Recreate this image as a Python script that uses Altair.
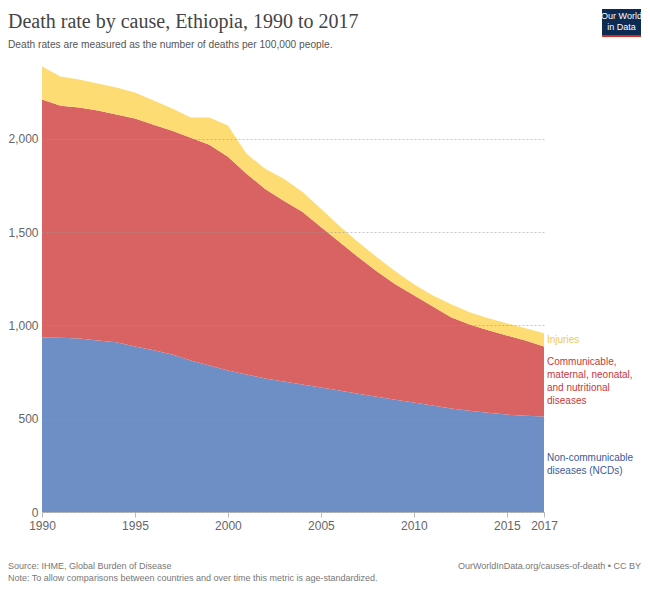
import altair as alt
import pandas as pd

years = list(range(1990, 2018))
ncd = [935, 934, 929, 919, 909, 887, 866, 844, 812, 785, 758, 737, 715, 699,
       683, 667, 651, 634, 618, 602, 586, 570, 554, 543, 532, 522, 516, 511]
communicable = [1275, 1243, 1238, 1232, 1220, 1221, 1209, 1199, 1193, 1183, 1145,
                1075, 1016, 968, 925, 860, 795, 732, 672, 618, 575, 532, 489,
                462, 441, 424, 403, 376]
injuries = [177, 156, 150, 145, 145, 139, 129, 118, 108, 145, 167, 107, 108, 118,
            107, 97, 86, 80, 76, 70, 59, 59, 70, 65, 65, 65, 65, 70]

causes = ["Non-communicable diseases (NCDs)",
          "Communicable, maternal, neonatal, and nutritional diseases",
          "Injuries"]
label_lines = [["Non-communicable", "diseases (NCDs)"],
               ["Communicable,", "maternal, neonatal,", "and nutritional", "diseases"],
               ["Injuries"]]
area_colors = ["#6d8fc5", "#d96363", "#fcdc73"]
label_colors = ["#3c5a9a", "#c8383c", "#f2c94c"]
x_ticks = [1990, 1995, 2000, 2005, 2010, 2015, 2017]
y_ticks = [0, 500, 1000, 1500, 2000]

series = [ncd, communicable, injuries]
rows = []
for k, (c, vals) in enumerate(zip(causes, series)):
    for y, v in zip(years, vals):
        rows.append({"year": y, "cause": c, "value": v, "order": k})
df = pd.DataFrame(rows)

W, H = 502, 448
FONT = "Liberation Sans"
LH = 13

color_scale = alt.Scale(domain=causes, range=area_colors)
x_scale = alt.Scale(domain=[1990, 2017], nice=False, zero=False)
y_scale = alt.Scale(domain=[0, 2400], nice=False)

areas = alt.Chart(df).mark_area().encode(
    x=alt.X("year:Q", scale=x_scale,
            axis=alt.Axis(values=x_ticks, format="d", title=None, grid=False,
                          tickSize=5, tickColor="#bbb", domainColor="#bbb",
                          labelColor="#666", labelFontSize=12, labelPadding=3,
                          labelFont=FONT, labelOverlap=False, labelBound=False,
                          labelFlush=False)),
    y=alt.Y("value:Q", stack="zero", scale=y_scale,
            axis=alt.Axis(values=y_ticks, format=",.0f", title=None, domain=False,
                          ticks=False, grid=True, gridColor="#999",
                          gridOpacity=0.55, gridDash=[2, 2], labelColor="#666",
                          labelFontSize=12, labelPadding=4, labelFont=FONT,
                          labelOverlap=False, zindex=1)),
    color=alt.Color("cause:N", scale=color_scale, legend=None),
    order=alt.Order("order:Q"),
)

# series labels, centred on the middle of each band in the last year
label_layers = []
base = 0
for k, (c, vals) in enumerate(zip(causes, series)):
    mid = base + vals[-1] / 2
    base += vals[-1]
    ldf = pd.DataFrame({"year": [years[-1]], "mid": [mid]})
    n = len(label_lines[k])
    label_layers.append(
        alt.Chart(ldf).mark_text(
            align="left", baseline="middle", dx=3, dy=-(n - 1) * LH / 2,
            fontSize=10, font=FONT, lineHeight=LH, color=label_colors[k]
        ).encode(
            x=alt.X("year:Q", scale=x_scale),
            y=alt.Y("mid:Q", scale=y_scale),
            text=alt.value(label_lines[k]),
        )
    )

one = pd.DataFrame({"a": [0]})


def txt(s, x, y, size, color, align="left", font=FONT, baseline="middle"):
    return alt.Chart(one).mark_text(
        align=align, baseline=baseline, fontSize=size, font=font, color=color
    ).encode(x=alt.value(x), y=alt.value(y), text=alt.value(s))


title = txt("Death rate by cause, Ethiopia, 1990 to 2017", -34, -36, 20, "#444",
            font="Liberation Serif", baseline="alphabetic")
subtitle = txt("Death rates are measured as the number of deaths per 100,000 people.",
               -34, -19, 10.2, "#555")
logo_box = alt.Chart(one).mark_rect(color="#0d2a52").encode(
    x=alt.value(560), x2=alt.value(599), y=alt.value(-55), y2=alt.value(-29))
logo_bar = alt.Chart(one).mark_rect(color="#d42b21").encode(
    x=alt.value(560), x2=alt.value(599), y=alt.value(-29), y2=alt.value(-27))
logo_t1 = txt("Our World", 579.5, -48, 9, "white", align="center")
logo_t2 = txt("in Data", 579.5, -37, 9, "white", align="center")
source = txt("Source: IHME, Global Burden of Disease", -34, 502, 9, "#777")
note = txt("Note: To allow comparisons between countries and over time this metric is age-standardized.",
           -34, 514, 9, "#777")
url = txt("OurWorldInData.org/causes-of-death • CC BY", 599, 502, 9, "#777",
          align="right")

chart = alt.layer(
    areas, *label_layers, title, subtitle, logo_box, logo_bar, logo_t1, logo_t2,
    source, note, url
).properties(
    width=W, height=H,
    background="white",
    autosize=alt.AutoSizeParams(type="none"),
    padding={"left": 34, "top": 56, "right": 98, "bottom": 76},
).configure_view(strokeWidth=0, stroke="transparent")

chart.save("out.html", embed_options={"renderer": "svg", "actions": False})
